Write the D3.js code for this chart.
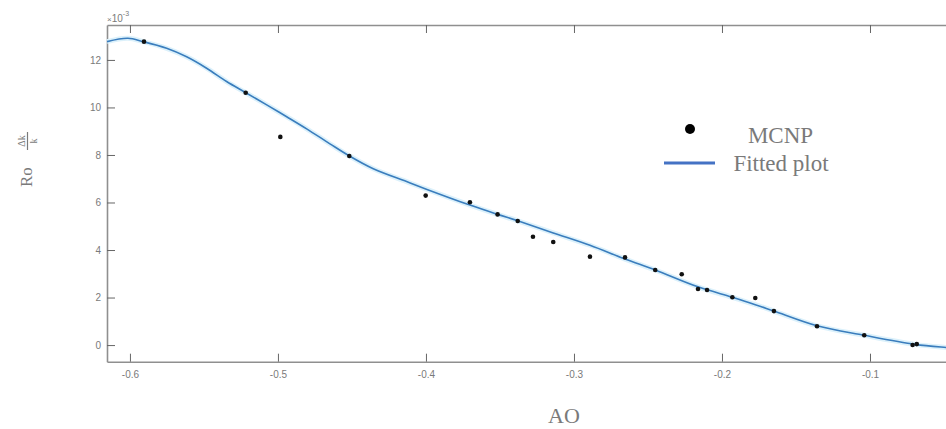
<!DOCTYPE html>
<html>
<head>
<meta charset="utf-8">
<script src="https://cdn.jsdelivr.net/npm/d3@7"></script>
<style>
  html, body { margin: 0; padding: 0; background: #fff; }
  svg { display: block; }
</style>
</head>
<body>
<svg id="chart" width="946" height="429"></svg>
<script>
// MCNP data points (AO, value ×10^-3)
const mcnpAO = [-0.5905, -0.5218, -0.4984, -0.4518, -0.4002, -0.3703, -0.3516, -0.3380, -0.3277, -0.3140,
                -0.2892, -0.2655, -0.2451, -0.2272, -0.2162, -0.2101, -0.1930, -0.1775, -0.1649, -0.1358,
                -0.1039, -0.0712, -0.0684];
const mcnpVal = [12.77, 10.62, 8.76, 7.96, 6.29, 6.01, 5.50, 5.22, 4.56, 4.34,
                 3.72, 3.69, 3.16, 2.98, 2.36, 2.32, 2.01, 1.98, 1.43, 0.79,
                 0.41, 0.00, 0.04];
// Fitted curve samples
const fitAO = [-0.6155, -0.6014, -0.5910, -0.5752, -0.5617, -0.5482, -0.5347, -0.5223, -0.5076, -0.4941,
               -0.4806, -0.4649, -0.4518, -0.4356, -0.4131, -0.4002, -0.3703, -0.3516, -0.3380, -0.3140, -0.2892,
               -0.2655, -0.2451, -0.2162, -0.1930, -0.1775, -0.1649, -0.1358, -0.1039, -0.0696, -0.0486, -0.0400];
const fitVal = [12.77, 12.91, 12.77, 12.49, 12.13, 11.65, 11.09, 10.64, 10.11, 9.61,
                9.10, 8.47, 7.96, 7.42, 6.88, 6.57, 5.89, 5.50, 5.23, 4.72, 4.20,
                3.62, 3.16, 2.45, 2.01, 1.70, 1.43, 0.81, 0.41, 0.03, -0.10, -0.14];
const xTicks = [-0.6, -0.5, -0.4, -0.3, -0.2, -0.1];
const xTickLabels = ["-0.6", "-0.5", "-0.4", "-0.3", "-0.2", "-0.1"];
const yTicks = [0, 2, 4, 6, 8, 10, 12];
const yTickLabels = ["0", "2", "4", "6", "8", "10", "12"];
const legendLabels = ["MCNP", "Fitted plot"];
const xLabel = "AO";

const svg = d3.select("#chart");
const mLeft = 107, mTop = 25, mBottom = 361.7, mRight = 958.8;
const x = d3.scaleLinear().domain([-0.6155, -0.04]).range([mLeft, mRight]);
const y = d3.scaleLinear().domain([-0.7, 13.47]).range([mBottom, mTop]);

const axisColor = "#8f8f8f";
const textColor = "#7a7a7a";

// Axes
const xAxis = svg.append("g").attr("transform", `translate(0,${mBottom})`)
  .call(d3.axisBottom(x).tickValues(xTicks).tickFormat((d, i) => xTickLabels[i]).tickSizeInner(-8).tickSizeOuter(0).tickPadding(6));
const xAxisTop = svg.append("g").attr("transform", `translate(0,${mTop})`)
  .call(d3.axisTop(x).tickValues(xTicks).tickFormat("").tickSizeInner(-8).tickSizeOuter(0));
const yAxis = svg.append("g").attr("transform", `translate(${mLeft},0)`)
  .call(d3.axisLeft(y).tickValues(yTicks).tickFormat((d, i) => yTickLabels[i]).tickSizeInner(-8).tickSizeOuter(0).tickPadding(6));

[xAxis, xAxisTop, yAxis].forEach(g => {
  g.select(".domain").attr("stroke", axisColor).attr("stroke-width", 1.6);
  g.selectAll(".tick line").attr("stroke", "#666").attr("stroke-width", 1);
  g.selectAll(".tick text").attr("fill", textColor)
    .attr("font-family", "Liberation Sans, Arial, sans-serif").attr("font-size", 10);
});
xAxis.selectAll(".tick text").attr("dy", "1.0em");

// Exponent label
const expo = svg.append("text").attr("x", 107).attr("y", 22)
  .attr("font-family", "Liberation Sans, Arial, sans-serif").attr("font-size", 10).attr("fill", textColor);
expo.append("tspan").attr("font-size", 8).text("×");
expo.append("tspan").text("10");
expo.append("tspan").attr("font-size", 7).attr("dy", -6).text("-3");

// Fitted curve
const line = d3.line().x((d, i) => x(fitAO[i])).y((d, i) => y(fitVal[i])).curve(d3.curveCatmullRom.alpha(0.5));
svg.append("path").datum(fitVal).attr("d", line)
  .attr("fill", "none").attr("stroke", "#dcf1fb").attr("stroke-width", 5);
svg.append("path").datum(fitVal).attr("d", line)
  .attr("fill", "none").attr("stroke", "#3a7dbd").attr("stroke-width", 1.6);

// MCNP points
svg.append("g").selectAll("circle").data(mcnpVal).join("circle")
  .attr("cx", (d, i) => x(mcnpAO[i])).attr("cy", d => y(d)).attr("r", 2.3).attr("fill", "#111");

// Legend
svg.append("circle").attr("cx", 690).attr("cy", 129).attr("r", 5).attr("fill", "#000");
svg.append("line").attr("x1", 664).attr("x2", 715).attr("y1", 163).attr("y2", 163)
  .attr("stroke", "#4472c4").attr("stroke-width", 3);
svg.append("text").attr("x", 780.5).attr("y", 142.7).attr("text-anchor", "middle")
  .attr("font-family", "Liberation Serif, Times New Roman, serif").attr("font-size", 23)
  .attr("fill", textColor).text(legendLabels[0]);
svg.append("text").attr("x", 781).attr("y", 171).attr("text-anchor", "middle")
  .attr("font-family", "Liberation Serif, Times New Roman, serif").attr("font-size", 23)
  .attr("fill", textColor).text(legendLabels[1]);

// X label
svg.append("text").attr("x", 564).attr("y", 423).attr("text-anchor", "middle")
  .attr("font-family", "Liberation Serif, Times New Roman, serif").attr("font-size", 22)
  .attr("fill", textColor).text(xLabel);

// Y label: Ro Δk/k (rotated)
const yl = svg.append("g").attr("transform", "translate(32,187) rotate(-90)")
  .attr("font-family", "Liberation Serif, Times New Roman, serif").attr("fill", textColor);
yl.append("text").attr("x", 0).attr("y", 0).attr("font-size", 17).text("Ro");
yl.append("line").attr("x1", 37).attr("x2", 55).attr("y1", -4.5).attr("y2", -4.5)
  .attr("stroke", textColor).attr("stroke-width", 1.2);
yl.append("text").attr("x", 46).attr("y", -7).attr("text-anchor", "middle").attr("font-size", 10).text("Δk");
yl.append("text").attr("x", 46).attr("y", 5).attr("text-anchor", "middle").attr("font-size", 10).text("k");
</script>
</body>
</html>
